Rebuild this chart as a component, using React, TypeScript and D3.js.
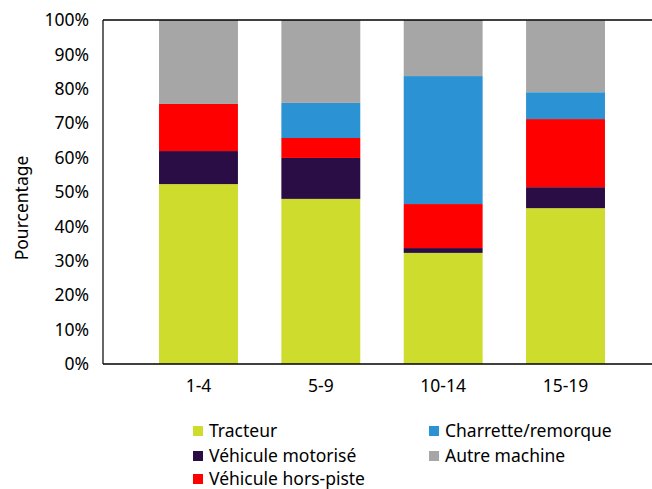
import React, { useEffect, useRef } from "react";
import * as d3 from "d3";

const groups = ["1-4", "5-9", "10-14", "15-19"];
const seriesNames = [
  "Tracteur",
  "Véhicule motorisé",
  "Véhicule hors-piste",
  "Charrette/remorque",
  "Autre machine",
];
const tracteur = [52.3, 48.0, 32.3, 45.3];
const motorise = [9.6, 11.9, 1.4, 6.1];
const horsPiste = [13.7, 5.8, 12.8, 19.8];
const charrette = [0, 10.2, 37.2, 7.8];
const autre = [24.4, 24.1, 16.3, 20.9];
const yTicks = [0, 10, 20, 30, 40, 50, 60, 70, 80, 90, 100];

const colors = ["#cddc2d", "#2a0d45", "#ff0000", "#2b93d4", "#a6a6a6"];

const App: React.FC = () => {
  const svgRef = useRef<SVGSVGElement>(null);

  useEffect(() => {
    const svg = d3.select(svgRef.current);
    svg.selectAll("*").remove();
    const font = "'Noto Sans', sans-serif";
    const fs = "17.5px";

    const left = 103;
    const right = 652;
    const top = 20;
    const bottom = 364;

    const table = groups.map((g, i) => ({
      group: g,
      [seriesNames[0]]: tracteur[i],
      [seriesNames[1]]: motorise[i],
      [seriesNames[2]]: horsPiste[i],
      [seriesNames[3]]: charrette[i],
      [seriesNames[4]]: autre[i],
    }));

    const x = d3.scaleBand().domain(groups).range([137, 627]).paddingInner(0.355).paddingOuter(0.18);
    const y = d3.scaleLinear().domain([0, 100]).range([bottom, top]);
    const color = d3.scaleOrdinal<string>().domain(seriesNames).range(colors);

    const stacked = d3.stack<any>().keys(seriesNames)(table);

    svg
      .append("g")
      .selectAll("g")
      .data(stacked)
      .join("g")
      .attr("fill", (d) => color(d.key))
      .selectAll("rect")
      .data((d) => d)
      .join("rect")
      .attr("x", (d) => x(d.data.group)!)
      .attr("width", x.bandwidth())
      .attr("y", (d) => y(d[1]))
      .attr("height", (d) => y(d[0]) - y(d[1]));

    // cadre
    svg.append("line").attr("x1", left).attr("x2", right).attr("y1", top).attr("y2", top)
      .attr("stroke", "#000").attr("stroke-width", 1.5);
    svg.append("line").attr("x1", left).attr("x2", right).attr("y1", bottom).attr("y2", bottom)
      .attr("stroke", "#000").attr("stroke-width", 1.5);
    svg.append("line").attr("x1", left).attr("x2", left).attr("y1", top).attr("y2", bottom)
      .attr("stroke", "#000").attr("stroke-width", 1.2);

    // y ticks
    svg
      .append("g")
      .selectAll("text")
      .data(yTicks)
      .join("text")
      .attr("x", 89)
      .attr("y", (d) => y(d))
      .attr("dy", "0.35em")
      .attr("text-anchor", "end")
      .style("font-family", font)
      .style("font-size", fs)
      .attr("fill", "#000")
      .text((d) => `${d}%`);

    // x labels
    svg
      .append("g")
      .selectAll("text")
      .data(groups)
      .join("text")
      .attr("x", (d) => x(d)! + x.bandwidth() / 2)
      .attr("y", 392)
      .attr("text-anchor", "middle")
      .style("font-family", font)
      .style("font-size", fs)
      .text((d) => d);

    // y title
    svg
      .append("text")
      .attr("transform", `translate(28,208) rotate(-90)`)
      .attr("text-anchor", "middle")
      .style("font-family", font)
      .style("font-size", fs)
      .text("Pourcentage");

    // légende
    const legendPos = [
      [193, 431],
      [193, 456],
      [193, 479],
      [429, 431],
      [429, 456],
    ];
    const legend = svg
      .append("g")
      .selectAll("g")
      .data(seriesNames)
      .join("g")
      .attr("transform", (d, i) => `translate(${legendPos[i][0]},${legendPos[i][1]})`);
    legend
      .append("rect")
      .attr("x", 0)
      .attr("y", -5)
      .attr("width", 10)
      .attr("height", 10)
      .attr("fill", (d) => color(d));
    legend
      .append("text")
      .attr("x", 16)
      .attr("y", 5.5)
      .style("font-family", font)
      .style("font-size", fs)
      .text((d) => d);
  }, []);

  return (
    <svg
      ref={svgRef}
      width={652}
      height={489}
      style={{ position: "absolute", left: 0, top: 0 }}
    />
  );
};

export default App;
